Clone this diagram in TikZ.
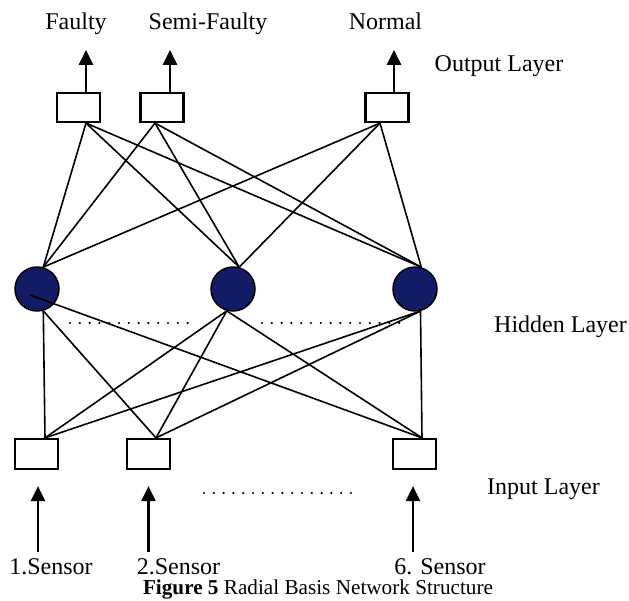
\documentclass[tikz,border=0pt]{standalone}
\usepackage{fontspec}
\setmainfont{Liberation Serif}
\usepackage{tikz}
\usetikzlibrary{arrows.meta,shapes}

\definecolor{hiddenblue}{RGB}{18,28,102}

\begin{document}
\begin{tikzpicture}
[x=1pt,y=-1pt,line width=1.6pt]
\tikzset{
	unit/.style = {rectangle, draw, line width=2.2pt, minimum width=43pt, minimum height=29pt, inner sep=0},
	hidden/.style = {circle, draw, line width=1.5pt, fill=hiddenblue, minimum size=44pt, inner sep=0},
	lbl/.style = {font=\fontsize{24}{28}\selectfont, anchor=base, inner sep=0},
	signal/.style = {-{Triangle[length=15pt,width=14pt]}, line width=2.4pt},
	dotrow/.style = {line width=2.4pt, line cap=round, dash pattern=on 0pt off 9.8pt}
}

\useasboundingbox (0,0) rectangle (629,600);

% output layer
\node(o1) [unit] at (78.5,107.5) {};
\node(o2) [unit] at (162,107.5) {};
\node(o3) [unit] at (387,107.5) {};

\node(faulty) [lbl] at (76,29) {Faulty};
\node(semi) [lbl] at (208,29) {Semi-Faulty};
\node(normal) [lbl] at (385.5,29) {Normal};
\node(outlayer) [lbl] at (499,71) {Output Layer};

\draw [signal] ([xshift=7.5pt]o1.north) -- ([xshift=7.5pt,yshift=42pt]o1.north);
\draw [signal] ([xshift=8pt]o2.north) -- ([xshift=8pt,yshift=42pt]o2.north);
\draw [signal] ([xshift=7pt]o3.north) -- ([xshift=7pt,yshift=42pt]o3.north);

% hidden layer
\node(h1) [hidden] at (37,289) {};
\node(h2) [hidden] at (233,289) {};
\node(h3) [hidden] at (415,289) {};
\node(hidlayer) [lbl] at (560.5,332) {Hidden Layer};

\draw [dotrow] (70,323) -- (190,323);
\draw [dotrow] (262,323) -- (402,323);

% input layer
\node(i1) [unit, minimum height=30pt] at (36.5,454) {};
\node(i2) [unit, minimum height=30pt] at (148.5,454) {};
\node(i3) [unit, minimum height=30pt] at (414.5,454) {};
\node(inlayer) [lbl] at (543.5,494) {Input Layer};

\draw [dotrow] (204,493) -- (360,493);

\node(s1) [lbl] at (51,574) {1.Sensor};
\node(s2) [lbl] at (178.5,574) {2.Sensor};
\node(s6) [lbl] at (440,574) {6. Sensor};

\draw [signal] ([xshift=1.5pt,yshift=-82pt]i1.south) -- ([xshift=1.5pt,yshift=-16pt]i1.south);
\draw [signal] ([yshift=-82pt]i2.south) -- ([yshift=-16pt]i2.south);
\draw [signal] ([xshift=-1.5pt,yshift=-82pt]i3.south) -- ([xshift=-1.5pt,yshift=-16pt]i3.south);

% output -- hidden
\path[draw]
 ([xshift=7.5pt]o1.south) edge (h1.74)
 ([xshift=7.5pt]o1.south) edge (h2.74)
 ([xshift=7.5pt]o1.south) edge (h3.74)
 ([xshift=-7pt]o2.south) edge (h1.74)
 ([xshift=-7pt]o2.south) edge (h2.74)
 ([xshift=-7pt]o2.south) edge (h3.74)
 ([xshift=-7pt]o3.south) edge (h1.74)
 ([xshift=-7pt]o3.south) edge (h2.74)
 ([xshift=-7pt]o3.south) edge (h3.74)
 ;

% hidden -- input
\path[draw]
 (h1.-74) edge ([xshift=8.5pt]i1.north)
 (h1.-74) edge ([xshift=7.5pt]i2.north)
 ([xshift=-7pt,yshift=-6pt]h1.center) edge ([xshift=7.5pt]i3.north)
 (h2.-106) edge ([xshift=8.5pt]i1.north)
 (h2.-106) edge ([xshift=7.5pt]i2.north)
 (h2.-106) edge ([xshift=7.5pt]i3.north)
 (h3.-76) edge ([xshift=8.5pt]i1.north)
 (h3.-76) edge ([xshift=7.5pt]i2.north)
 (h3.-76) edge ([xshift=7.5pt]i3.north)
 ;

\node(caption) [lbl, font=\fontsize{21.2}{25}\selectfont] at (318,594) {\textbf{Figure 5} Radial Basis Network Structure};
\end{tikzpicture}
\end{document}
